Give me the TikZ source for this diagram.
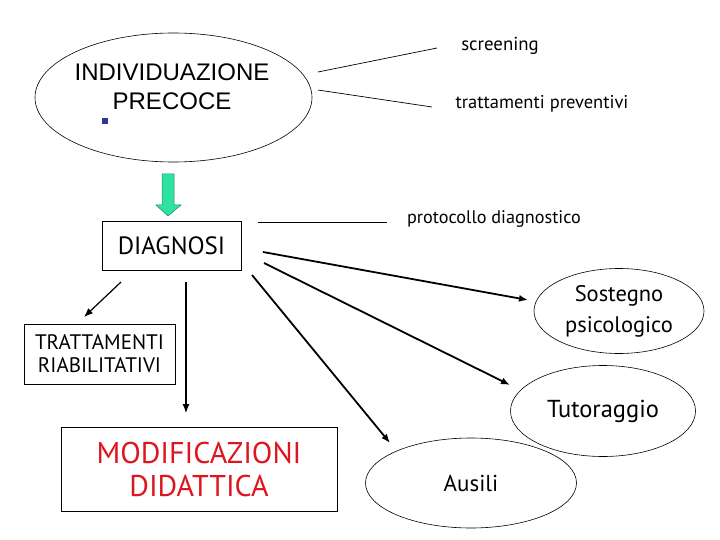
\documentclass[tikz,border=0pt]{standalone}
\usepackage{fontspec}
\setmainfont{PT Sans}
\newfontfamily\arialfont{Liberation Sans}
\usepackage{tikz}
\usetikzlibrary{arrows.meta, shapes.geometric}
\definecolor{mint}{RGB}{46,226,160}
\definecolor{bulletblue}{RGB}{51,51,153}
\definecolor{redtext}{RGB}{222,20,30}

\begin{document}
\begin{tikzpicture}[x=1pt, y=-1pt,
    oval/.style = {draw, ellipse, line width=0.6pt, inner sep=0pt},
    box/.style = {draw, rectangle, line width=0.8pt, inner sep=0pt, align=center},
    txt/.style = {inner sep=0pt, align=center},
    thin/.style = {line width=0.7pt},
    arr/.style = {line width=1.8pt, -{Latex[length=9pt,width=7pt]}}]
            \useasboundingbox (0,0) rectangle (720,540);

            % top part
            \node[oval, minimum width=277pt, minimum height=129pt] (Ind) at (173.5,97.5) {};
            \node[txt, font=\arialfont\fontsize{24}{29}\selectfont] (IndT) at (172,87) {INDIVIDUAZIONE\\PRECOCE};
            \node[fill=bulletblue, minimum size=6pt, inner sep=0pt] (Bul) at (105,121.5) {};
            \node[txt, font=\fontsize{18.8}{22}\selectfont] (Scr) at (500,46) {screening};
            \node[txt, font=\fontsize{18.5}{22}\selectfont] (Prev) at (542,104) {trattamenti preventivi};
            \coordinate (S1) at (318,72);  \coordinate (S2) at (437,48);
            \coordinate (P1) at (318,90);  \coordinate (P2) at (432,107);
            \path[thin] (S1) edge (S2);
            \path[thin] (P1) edge (P2);

            % green arrow
            \draw[mint!60!black, line width=0.5pt, fill=mint]
                (162,174) -- (174,174) -- (174,205) -- (181,205) -- (168,216)
                -- (156,205) -- (162,205) -- cycle;

            % diagnosis
            \node[box, minimum width=139pt, minimum height=49pt, font=\fontsize{25}{28}\selectfont] (Diag) at (171.5,245.5) {DIAGNOSI};
            \node[txt, font=\fontsize{18.2}{22}\selectfont] (Prot) at (494,219) {protocollo diagnostico};
            \coordinate (D1) at (258,222);  \coordinate (D2) at (387,222);
            \path[thin] (D1) edge (D2);

            \node[box, minimum width=151pt, minimum height=60pt, font=\fontsize{21}{23}\selectfont] (Tratt) at (99.5,354) {TRATTAMENTI\\RIABILITATIVI};
            \node[box, minimum width=276pt, minimum height=84pt, text=redtext, font=\fontsize{30}{33}\selectfont] (Mod) at (199,469) {MODIFICAZIONI\\DIDATTICA};
            \node[oval, minimum width=170pt, minimum height=85pt, align=center, font=\fontsize{22.5}{31}\selectfont] (Sost) at (619,311) {Sostegno\\psicologico};
            \node[oval, minimum width=185pt, minimum height=91pt, font=\fontsize{24.5}{28}\selectfont] (Tut) at (603,411) {Tutoraggio};
            \node[oval, minimum width=211pt, minimum height=90pt, font=\fontsize{23}{28}\selectfont] (Aus) at (471,483) {Ausili};

            % arrows from DIAGNOSI
            \coordinate (A1) at (121,282);  \coordinate (A2) at (84,317);
            \coordinate (B1) at (186,282);  \coordinate (B2) at (186,413);
            \coordinate (C1) at (252,275);  \coordinate (C2) at (390,443);
            \coordinate (E1) at (264,263);  \coordinate (E2) at (510,385);
            \coordinate (F1) at (263,252);  \coordinate (F2) at (528,300);
            \path[arr, line width=1.2pt] (A1) edge (A2);
            \path[arr, line width=1.1pt] (B1) edge (B2);
            \path[arr] (C1) edge (C2);
            \path[arr] (E1) edge (E2);
            \path[arr] (F1) edge (F2);
        \end{tikzpicture}
\end{document}
